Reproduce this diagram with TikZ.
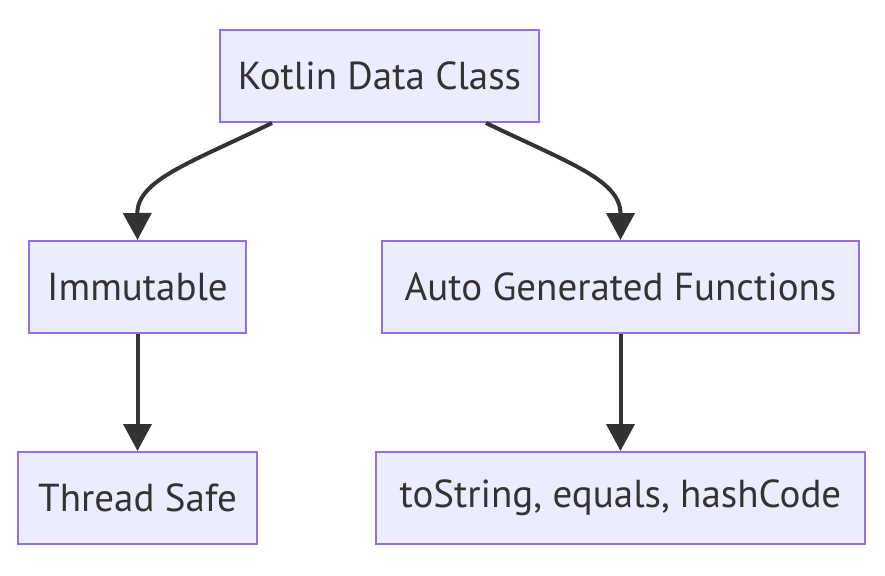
\documentclass[tikz,border=0pt]{standalone}
\usepackage{fontspec}
\setmainfont{PT Sans}
\usetikzlibrary{arrows.meta}
\definecolor{nodefill}{HTML}{ECECFF}
\definecolor{nodeline}{HTML}{9370DB}
\definecolor{edgecol}{HTML}{333333}
\tikzset{
  box/.style={draw=nodeline, fill=nodefill, line width=2pt, inner sep=0pt, text=edgecol,
    font=\fontsize{39pt}{46pt}\selectfont, minimum height=92pt},
  edge/.style={draw=edgecol, line width=4pt, -{Triangle[length=27pt,width=28pt]}}
}
\begin{document}
\begin{tikzpicture}[x=1pt,y=-1pt]
\useasboundingbox (0,0) rectangle (885,575);
\fill[white] (0,0) rectangle (885,575);
\node[box, minimum width=319pt] (k) at (379.5,76) {Kotlin Data Class};
\node[box, minimum width=217pt] (i) at (137.5,287) {Immutable};
\node[box, minimum width=477pt] (a) at (620.5,287) {Auto Generated Functions};
\node[box, minimum width=239pt] (t) at (137.5,498) {Thread Safe};
\node[box, minimum width=489pt] (s) at (620.5,498) {toString, equals, hashCode};
\coordinate (k1) at ([xshift=-107.5pt]k.south);
\coordinate (k2) at ([xshift=106.5pt]k.south);
\draw[edge] (k1) .. controls (190,163) and (137,180) .. (i.north);
\draw[edge] (k2) .. controls (569,163) and (620.5,180) .. (a.north);
\draw[edge] (i) -- (t);
\draw[edge] (a) -- (s);
\end{tikzpicture}
\end{document}
